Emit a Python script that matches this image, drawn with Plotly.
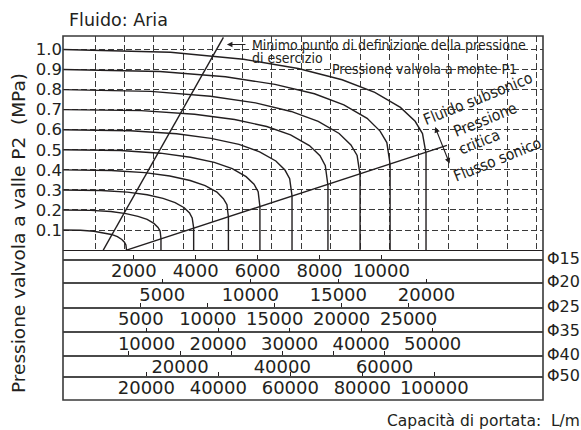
import plotly.graph_objects as go

# ---------------- data: main chart (relative flow in grid units, P2 in MPa) ----------------
p2_ticks = [0.1, 0.2, 0.3, 0.4, 0.5, 0.6, 0.7, 0.8, 0.9, 1.0]
p2_labels = ["0.1", "0.2", "0.3", "0.4", "0.5", "0.6", "0.7", "0.8", "0.9", "1.0"]
grid_flow = [1, 2, 3, 4, 5, 6, 7, 8, 9, 10, 11, 12, 13, 14, 15, 16]

flow_p10 = [-0.15, 3.56, 6.04, 7.90, 9.39, 10.50, 11.37, 11.87, 12.12, 12.24, 12.24]
p2_p10 = [1.0, 0.986, 0.951, 0.905, 0.849, 0.786, 0.711, 0.642, 0.581, 0.481, 0.0]
flow_p09 = [-0.15, 3.20, 5.43, 7.11, 8.45, 9.45, 10.24, 10.68, 10.91, 11.02, 11.02]
p2_p09 = [0.9, 0.890, 0.864, 0.826, 0.779, 0.724, 0.657, 0.593, 0.536, 0.428, 0.0]
flow_p08 = [-0.15, 2.89, 4.92, 6.45, 7.66, 8.58, 9.29, 9.69, 9.90, 10.00, 10.00]
p2_p08 = [0.8, 0.791, 0.767, 0.734, 0.691, 0.642, 0.581, 0.524, 0.472, 0.375, 0.0]
flow_p07 = [-0.15, 2.57, 4.38, 5.74, 6.83, 7.64, 8.28, 8.64, 8.82, 8.91, 8.91]
p2_p07 = [0.7, 0.695, 0.677, 0.651, 0.616, 0.574, 0.521, 0.470, 0.421, 0.322, 0.0]
flow_p06 = [-0.15, 2.20, 3.77, 4.94, 5.89, 6.59, 7.14, 7.45, 7.61, 7.69, 7.69]
p2_p06 = [0.6, 0.595, 0.580, 0.557, 0.527, 0.490, 0.444, 0.399, 0.356, 0.270, 0.0]
flow_p05 = [-0.15, 1.87, 3.22, 4.24, 5.05, 5.66, 6.13, 6.40, 6.54, 6.60, 6.60]
p2_p05 = [0.5, 0.496, 0.483, 0.463, 0.437, 0.406, 0.366, 0.328, 0.291, 0.217, 0.0]
flow_p04 = [-0.15, 1.55, 2.69, 3.54, 4.23, 4.74, 5.14, 5.36, 5.48, 5.53, 5.53]
p2_p04 = [0.4, 0.397, 0.386, 0.369, 0.347, 0.321, 0.289, 0.256, 0.226, 0.164, 0.0]
flow_p03 = [-0.15, 1.20, 2.10, 2.77, 3.31, 3.72, 4.03, 4.21, 4.30, 4.35, 4.35]
p2_p03 = [0.3, 0.297, 0.289, 0.276, 0.258, 0.237, 0.211, 0.185, 0.160, 0.111, 0.0]
flow_p02 = [-0.15, 0.86, 1.54, 2.05, 2.46, 2.77, 3.00, 3.14, 3.21, 3.24, 3.24]
p2_p02 = [0.2, 0.198, 0.192, 0.182, 0.168, 0.153, 0.133, 0.113, 0.095, 0.058, 0.0]
flow_p01 = [-0.15, 0.51, 0.96, 1.29, 1.56, 1.76, 1.91, 2.00, 2.05, 2.07]
p2_p01 = [0.1, 0.099, 0.094, 0.087, 0.078, 0.067, 0.053, 0.039, 0.026, 0.0]

sonic_flow = [2.07, 12.95]
sonic_p2 = [0.0, 0.522]
minpt_flow = [1.28, 5.36]
minpt_p2 = [0.0, 1.06]

# ---------------- data: flow-capacity scales per port size (L/min) ----------------
phi_names = ["Φ15", "Φ20", "Φ25", "Φ35", "Φ40", "Φ50"]
phi15_vals = [2000, 4000, 6000, 8000, 10000]
phi15_text = ["2000", "4000", "6000", "8000", "10000"]
phi20_vals = [5000, 10000, 15000, 20000]
phi20_text = ["5000", "10000", "15000", "20000"]
phi25_vals = [5000, 10000, 15000, 20000, 25000]
phi25_text = ["5000", "10000", "15000", "20000", "25000"]
phi35_vals = [10000, 20000, 30000, 40000, 50000]
phi35_text = ["10000", "20000", "30000", "40000", "50000"]
phi40_vals = [10000, 20000, 30000, 40000, 50000, 60000]
phi40_text = ["", "20000", "", "40000", "", "60000"]
phi50_vals = [20000, 40000, 60000, 80000, 100000]
phi50_text = ["20000", "40000", "60000", "80000", "100000"]

# ---------------- styling / layout ----------------
INK = "#231f20"
FONT = "DejaVu Sans"
NARROW = "DejaVu Sans Condensed"

fig = go.Figure()

curves = [
    (flow_p10, p2_p10), (flow_p09, p2_p09), (flow_p08, p2_p08), (flow_p07, p2_p07),
    (flow_p06, p2_p06), (flow_p05, p2_p05), (flow_p04, p2_p04), (flow_p03, p2_p03),
    (flow_p02, p2_p02), (flow_p01, p2_p01),
]
for fx, fy in curves:
    fig.add_trace(go.Scatter(x=fx, y=fy, mode="lines", line=dict(color=INK, width=1.4),
                             hoverinfo="skip", showlegend=False))
for fx, fy in [(sonic_flow, sonic_p2), (minpt_flow, minpt_p2)]:
    fig.add_trace(go.Scatter(x=fx, y=fy, mode="lines", line=dict(color=INK, width=1.4),
                             hoverinfo="skip", showlegend=False))

rows = [
    (phi15_vals, phi15_text, [-291, 15228], 260.0),
    (phi20_vals, phi20_text, [-630, 26615], 283.3),
    (phi25_vals, phi25_text, [-810, 35037], 307.7),
    (phi35_vals, phi35_text, [-1678, 65427], 332.3),
    (phi40_vals, phi40_text, [-2885, 91002], 356.0),
    (phi50_vals, phi50_text, [-3168, 130221], 376.7),
]

W, H = 581, 430
ML, MR, MT, MB = 63, 38, 36, 30
PH = H - MT - MB
PW = W - ML - MR


def py(ypx):
    return (H - MB - ypx) / PH


def px(xpx):
    return (xpx - ML) / PW


layout_axes = {}
for i, (vals, text, rng, ypx) in enumerate(rows):
    n = i + 2
    fig.add_trace(go.Scatter(x=vals, y=[0] * len(vals), xaxis=f"x{n}", yaxis="y", mode="markers",
                             marker=dict(size=1, opacity=0), hoverinfo="skip", showlegend=False))
    layout_axes[f"xaxis{n}"] = dict(
        overlaying="x", anchor="free", position=py(ypx), side="bottom",
        range=rng, tickvals=vals, ticktext=text, ticks="inside", ticklen=4,
        tickwidth=1, tickcolor=INK, showline=True, linecolor="#4a4a4a", linewidth=1.6,
        showgrid=False, zeroline=False, ticklabelstandoff=-5,
        tickfont=dict(family=FONT, size=18, color=INK),
    )

annotations = []
for name, (vals, text, rng, ypx) in zip(phi_names, rows):
    annotations.append(dict(text=name, xref="paper", yref="paper", x=px(545), y=py(ypx - 1.5),
                            xanchor="left", yanchor="middle", showarrow=False,
                            font=dict(family=FONT, size=16, color=INK)))

annotations += [
    dict(text="Fluido: Aria", xref="paper", yref="paper", x=px(67), y=py(20), xanchor="left",
         yanchor="middle", showarrow=False, font=dict(family=FONT, size=17.5, color=INK)),
    dict(text="Pressione valvola a valle P2  (MPa)", xref="paper", yref="paper", x=px(18),
         y=py(233), textangle=-90, xanchor="center", yanchor="middle", showarrow=False,
         font=dict(family=FONT, size=18.5, color=INK)),
    dict(text="Capacità di portata:  L/min", xref="paper", yref="paper", x=px(385), y=py(421),
         xanchor="left", yanchor="middle", showarrow=False,
         font=dict(family=FONT, size=15.5, color=INK)),
    dict(text="Minimo punto di definizione della pressione", x=6.27, y=1.023, xref="x", yref="y",
         xanchor="left", yanchor="middle", showarrow=False,
         font=dict(family=NARROW, size=14, color=INK)),
    dict(text="di esercizio", x=6.27, y=0.955, xref="x", yref="y",
         xanchor="left", yanchor="middle", showarrow=False,
         font=dict(family=NARROW, size=14, color=INK)),
    dict(text="Pressione valvola a monte P1", x=8.98, y=0.902, xref="x", yref="y",
         xanchor="left", yanchor="middle", showarrow=False,
         font=dict(family=NARROW, size=14, color=INK)),
    dict(text="", x=5.48, y=1.025, ax=6.16, ay=1.025, xref="x", yref="y", axref="x", ayref="y",
         showarrow=True, arrowhead=2, arrowsize=1, arrowwidth=1.1, arrowcolor=INK,
         standoff=0, startstandoff=0),
    dict(text="", x=12.55, y=0.613, ax=13.06, ay=0.424, xref="x", yref="y", axref="x", ayref="y",
         showarrow=True, arrowhead=2, arrowside="end+start", arrowsize=1, arrowwidth=1.1,
         arrowcolor=INK, standoff=0, startstandoff=0),
]
for txt, ux, uy in [("Fluido subsonico", 14.0, 0.752), ("Pressione", 14.24, 0.648),
                    ("critica", 14.07, 0.538), ("Flusso sonico", 14.65, 0.449)]:
    annotations.append(dict(text=txt, x=ux, y=uy, xref="x", yref="y", textangle=-22,
                            xanchor="center", yanchor="middle", showarrow=False,
                            font=dict(family=NARROW, size=15.5, color=INK)))

fig.update_layout(
    width=W, height=H, margin=dict(l=ML, r=MR, t=MT, b=MB),
    paper_bgcolor="white", plot_bgcolor="white", showlegend=False,
    xaxis=dict(range=[-0.0866, 16.212], tickvals=grid_flow, showticklabels=False, ticks="",
               showgrid=True, gridcolor="#3a3a3a", gridwidth=1, griddash="6px,3px",
               zeroline=False, showline=True, linecolor=INK, linewidth=1.4),
    yaxis=dict(domain=[py(250.1), 1], range=[0, 1.067], tickvals=p2_ticks, ticktext=p2_labels,
               ticks="", showgrid=True, gridcolor="#3a3a3a", gridwidth=1, griddash="6px,3px",
               zeroline=False, showline=False,
               tickfont=dict(family=FONT, size=16.5, color=INK)),
    annotations=annotations,
    shapes=[dict(type="rect", xref="paper", yref="paper", x0=0, x1=1, y0=0, y1=1,
                 line=dict(color="#3a3a3a", width=1.6), fillcolor="rgba(0,0,0,0)", layer="above")],
    **layout_axes,
)

fig.write_html("out.html", config={"displayModeBar": False},
               post_script="document.body.style.margin='0px';")
